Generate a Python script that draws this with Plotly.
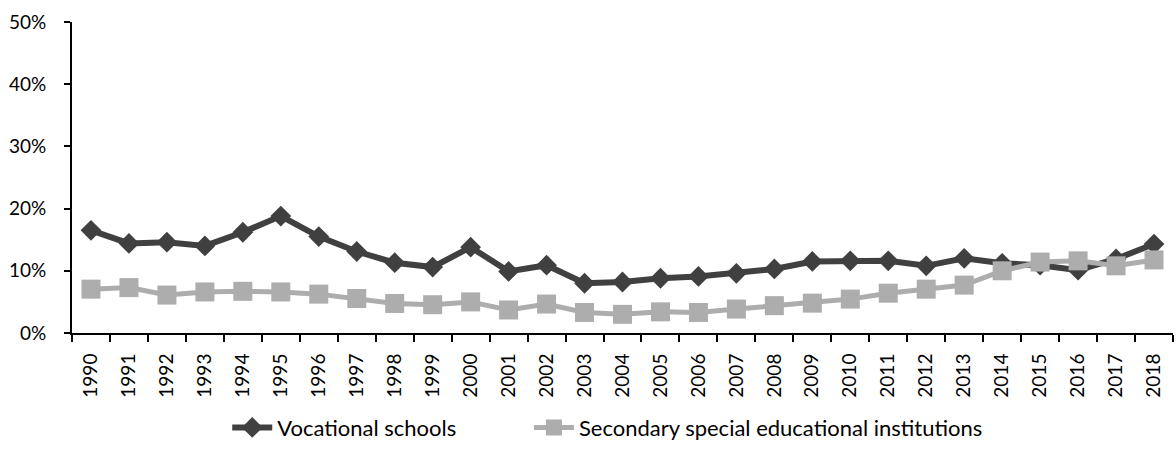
import plotly.graph_objects as go

years = [str(y) for y in range(1990, 2019)]

vocational = [16.5, 14.4, 14.6, 14.0, 16.2, 18.8, 15.5, 13.1, 11.3, 10.6,
              13.8, 9.9, 10.9, 8.0, 8.2, 8.8, 9.1, 9.6, 10.3, 11.5,
              11.6, 11.6, 10.8, 12.0, 11.2, 10.9, 10.1, 11.9, 14.3]

secondary_special = [7.05, 7.3, 6.1, 6.6, 6.7, 6.6, 6.25, 5.55, 4.75, 4.55,
                     5.0, 3.7, 4.65, 3.3, 3.0, 3.4, 3.3, 3.85, 4.4, 4.8,
                     5.45, 6.4, 7.05, 7.7, 10.0, 11.4, 11.6, 10.8, 11.75]

y_ticks = [0, 0.1, 0.2, 0.3, 0.4, 0.5]

font_family = "Lato, 'Open Sans', sans-serif"
dark = "#404040"
light = "#ADADAD"

fig = go.Figure()
fig.add_trace(go.Scatter(
    x=years, y=[v / 100 for v in vocational],
    name="Vocational schools",
    mode="lines+markers",
    line=dict(color=dark, width=6),
    marker=dict(symbol="diamond", size=16, color=dark),
    legend="legend",
))
fig.add_trace(go.Scatter(
    x=years, y=[v / 100 for v in secondary_special],
    name="Secondary special educational institutions",
    mode="lines+markers",
    line=dict(color=light, width=5),
    marker=dict(symbol="square", size=19, color=light),
    legend="legend2",
))

legend_common = dict(orientation="h", y=-0.30, yanchor="middle",
                     font=dict(size=22), itemwidth=40, bgcolor="rgba(0,0,0,0)")

fig.update_layout(
    width=1176, height=450,
    margin=dict(l=72, r=3, t=22, b=116),
    paper_bgcolor="white", plot_bgcolor="white",
    font=dict(family=font_family, size=19, color="black"),
    showlegend=True,
    legend=dict(x=0.141, xanchor="left", **legend_common),
    legend2=dict(x=0.415, xanchor="left", **legend_common),
)
fig.update_xaxes(
    type="category", range=[-0.5, len(years) - 0.5],
    showline=True, linecolor="black", linewidth=2,
    ticks="outside", tickson="boundaries", ticklen=7, tickwidth=2, tickcolor="black",
    tickangle=-90, showgrid=False, zeroline=False,
    ticklabelstandoff=11,
    tickfont=dict(size=19),
)
fig.update_yaxes(
    range=[0, 0.5], tickvals=y_ticks, tickformat=".0%",
    showline=True, linecolor="black", linewidth=2,
    ticks="outside", ticklen=6, tickwidth=2, tickcolor="black",
    showgrid=False, zeroline=False,
    ticklabelstandoff=14,
    tickfont=dict(size=19),
)

fig.write_html("out.html")
